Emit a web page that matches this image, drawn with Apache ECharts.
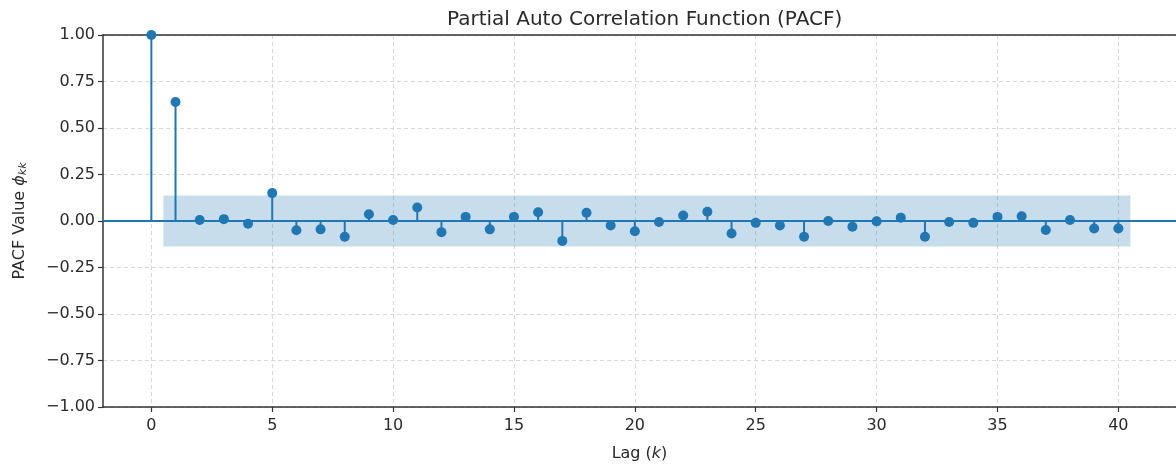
<!DOCTYPE html>
<html>
<head>
<meta charset="utf-8">
<script src="https://cdn.jsdelivr.net/npm/echarts@6/dist/echarts.min.js"></script>
<style>
html,body{margin:0;padding:0;background:#fff;}
#chart{width:1176px;height:467px;}
</style>
</head>
<body>
<div id="chart"></div>
<script>
const titleText = 'Partial Auto Correlation Function (PACF)';
const lags = [0,1,2,3,4,5,6,7,8,9,10,11,12,13,14,15,16,17,18,19,20,21,22,23,24,25,26,27,28,29,30,31,32,33,34,35,36,37,38,39,40];
const pacfValues = [1.0,0.64,0.005,0.01,-0.015,0.15,-0.05,-0.045,-0.085,0.036,0.005,0.073,-0.06,0.022,-0.045,0.022,0.047,-0.107,0.044,-0.024,-0.055,-0.005,0.03,0.05,-0.067,-0.01,-0.024,-0.085,0.0,-0.031,-0.002,0.018,-0.085,-0.005,-0.01,0.022,0.026,-0.048,0.005,-0.04,-0.04];
const confBand = [-0.137, 0.137];
const confRange = [0.5, 40.5];
const xTickValues = [0,5,10,15,20,25,30,35,40];
const yTicks = [-1,-0.75,-0.5,-0.25,0,0.25,0.5,0.75,1];

const C0 = '#1f77b4';
const font = 'DejaVu Sans';
const txt = '#2a2a2a';
const fmtY = v => (v < 0 ? '\u2212' + Math.abs(v).toFixed(2) : v.toFixed(2));
const xMin = -2, xMax = 42.385;

const chart = echarts.init(document.getElementById('chart'));
chart.setOption({
  animation: false,
  title: {
    text: titleText, left: 442, top: 5,
    textStyle: {fontFamily: font, fontSize: 20, fontWeight: 'normal', color: txt}
  },
  grid: {left: 103, right: 0, top: 35, bottom: 59},
  xAxis: [{
    type: 'value', min: xMin, max: xMax,
    name: 'Lag ({i|k})', nameLocation: 'middle', nameGap: 39,
    nameTextStyle: {fontFamily: font, fontSize: 16, color: txt, rich: {i: {fontStyle: 'italic', fontFamily: font, fontSize: 16, color: txt}}},
    axisLine: {show: true, onZero: false, lineStyle: {color: '#333', width: 1.5}},
    axisTick: {show: true, length: 5, lineStyle: {color: '#333', width: 1.2}, customValues: xTickValues},
    axisLabel: {fontFamily: font, fontSize: 16, color: txt, margin: 11, customValues: xTickValues},
    splitLine: {show: true, lineStyle: {color: '#d2d2d2', type: [4, 3], width: 0.9}}
  }, {
    type: 'value', min: xMin, max: xMax, position: 'top',
    axisLine: {show: true, onZero: false, lineStyle: {color: '#333', width: 1.5}},
    axisTick: {show: false}, axisLabel: {show: false}, splitLine: {show: false}
  }],
  yAxis: {
    type: 'value', min: yTicks[0], max: yTicks[yTicks.length - 1], interval: 0.25,
    name: 'PACF Value {i|\u03d5}{s|kk}', nameLocation: 'middle', nameGap: 74, nameRotate: 90,
    nameTextStyle: {fontFamily: font, fontSize: 16, color: txt, rich: {
      i: {fontStyle: 'italic', fontFamily: font, fontSize: 16, color: txt},
      s: {fontStyle: 'italic', fontFamily: font, fontSize: 11, color: txt, padding: [7, 0, 0, 0]}
    }},
    axisLine: {show: true, onZero: false, lineStyle: {color: '#333', width: 1.5}},
    axisTick: {show: true, length: 5, lineStyle: {color: '#333', width: 1.2}},
    axisLabel: {fontFamily: font, fontSize: 16, color: txt, margin: 8, formatter: fmtY},
    splitLine: {show: true, lineStyle: {color: '#d2d2d2', type: [4, 3], width: 0.9}}
  },
  series: [
    {
      type: 'line', data: [], z: 1, silent: true,
      markArea: {silent: true, itemStyle: {color: 'rgba(31,119,180,0.25)'},
        data: [[{xAxis: confRange[0], yAxis: confBand[0]}, {xAxis: confRange[1], yAxis: confBand[1]}]]}
    },
    {
      type: 'line', data: [], z: 2, silent: true,
      markLine: {silent: true, symbol: 'none', label: {show: false},
        lineStyle: {color: C0, width: 2, type: 'solid'}, data: [{yAxis: 0}]}
    },
    {
      type: 'bar', z: 3, barWidth: 2, silent: true,
      itemStyle: {color: C0},
      data: lags.map((l, i) => [l, pacfValues[i]])
    },
    {
      type: 'scatter', z: 4, symbol: 'circle', symbolSize: 10, silent: true,
      itemStyle: {color: C0, opacity: 1},
      data: lags.map((l, i) => [l, pacfValues[i]])
    }
  ]
});
</script>
</body>
</html>
